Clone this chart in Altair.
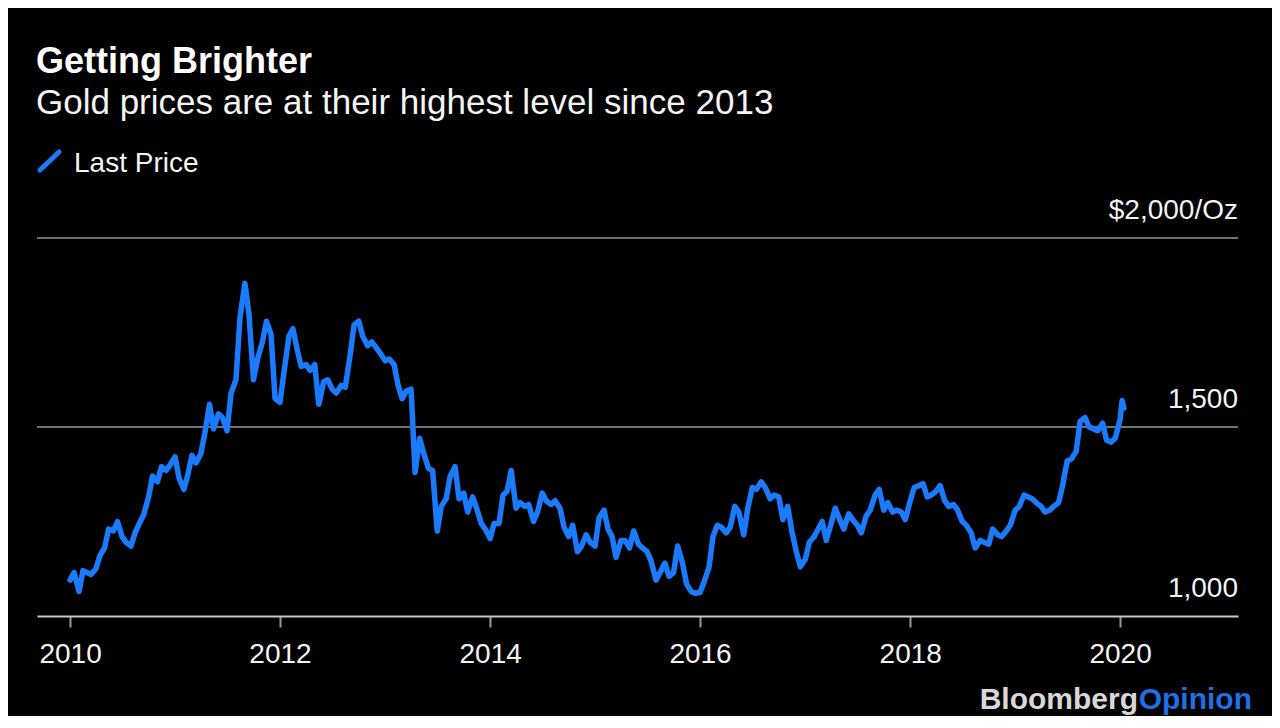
import altair as alt
import pandas as pd

TITLE = "Getting Brighter"
SUBTITLE = "Gold prices are at their highest level since 2013"
LEGEND_LABEL = "Last Price"
FOOTER_A = "Bloomberg"
FOOTER_B = "Opinion"

X_TICK_YEARS = [2010, 2012, 2014, 2016, 2018, 2020]
Y_TICKS = [1000, 1500, 2000]
Y_LABELS = ["1,000", "1,500", "$2,000/Oz"]
GRID_VALUES = [1500, 2000]

# Gold price, semi-monthly (1st and 15th of each month), USD/oz
y2010 = [1095, 1115, 1065, 1120, 1115, 1110, 1125, 1160, 1180, 1230, 1225, 1250,
         1210, 1195, 1185, 1220, 1248, 1270, 1315, 1370, 1355, 1395, 1385, 1400]
y2011 = [1421, 1365, 1335, 1375, 1425, 1405, 1430, 1485, 1560, 1495, 1535, 1525,
         1490, 1590, 1625, 1790, 1880, 1800, 1625, 1680, 1725, 1780, 1745, 1575]
y2012 = [1565, 1645, 1740, 1760, 1705, 1660, 1665, 1650, 1665, 1560, 1620, 1625,
         1600, 1590, 1610, 1605, 1690, 1770, 1780, 1740, 1715, 1725, 1710, 1695]
y2013 = [1675, 1680, 1665, 1610, 1575, 1595, 1600, 1380, 1470, 1430, 1390, 1385,
         1225, 1290, 1310, 1370, 1395, 1310, 1325, 1275, 1315, 1285, 1245, 1230]
y2014 = [1205, 1245, 1245, 1320, 1330, 1385, 1285, 1300, 1290, 1295, 1250, 1275,
         1325, 1305, 1295, 1305, 1285, 1235, 1210, 1240, 1170, 1185, 1215, 1195]
y2015 = [1185, 1260, 1280, 1230, 1210, 1155, 1200, 1200, 1180, 1225, 1190, 1180,
         1170, 1145, 1095, 1115, 1140, 1105, 1115, 1185, 1140, 1085, 1065, 1060]
y2016 = [1062, 1090, 1128, 1210, 1240, 1235, 1220, 1235, 1290, 1275, 1215, 1285,
         1340, 1335, 1355, 1340, 1310, 1320, 1315, 1255, 1290, 1225, 1170, 1130]
y2017 = [1150, 1195, 1210, 1230, 1250, 1200, 1245, 1285, 1255, 1230, 1270, 1255,
         1240, 1220, 1265, 1280, 1320, 1335, 1280, 1300, 1275, 1280, 1275, 1255]
y2018 = [1305, 1340, 1345, 1350, 1315, 1320, 1330, 1345, 1305, 1290, 1295, 1280,
         1250, 1240, 1220, 1180, 1200, 1195, 1190, 1230, 1215, 1210, 1225, 1240]
y2019 = [1280, 1290, 1320, 1315, 1310, 1300, 1290, 1275, 1280, 1290, 1300, 1345,
         1410, 1415, 1435, 1515, 1525, 1500, 1495, 1490, 1510, 1465, 1460, 1470]
y2020 = [1520, 1570, 1550]

values = y2010 + y2011 + y2012 + y2013 + y2014 + y2015 + y2016 + y2017 + y2018 + y2019 + y2020
dates = list(pd.date_range("2010-01-01", "2020-01-01", freq="SMS")) + [
    pd.Timestamp("2020-01-08"), pd.Timestamp("2020-01-14")]
df = pd.DataFrame({"date": dates, "price": values})

FONT = "Liberation Sans"
BLUE = "#1a7bff"
WHITE = "#f4f4f4"

x_scale = alt.Scale(domain=[alt.DateTime(year=2009, month=9, date=8),
                            alt.DateTime(year=2021, month=2, date=14)])
y_scale = alt.Scale(domain=[1000, 2000], nice=False, zero=False)

grid = alt.Chart(pd.DataFrame({"value": GRID_VALUES})).mark_rule(
    color="#707070", strokeWidth=2
).encode(y=alt.Y("value:Q", scale=y_scale, axis=None))

line = alt.Chart(df).mark_line(
    color=BLUE, strokeWidth=5.5, strokeJoin="round", strokeCap="round"
).encode(
    x=alt.X("date:T", scale=x_scale,
            axis=alt.Axis(values=[alt.DateTime(year=y, month=1, date=1) for y in X_TICK_YEARS],
                          format="%Y", title=None, grid=False,
                          labelFont=FONT, labelFontSize=28, labelColor=WHITE,
                          labelPadding=13, tickSize=11, tickWidth=2, tickColor="#9a9a9a",
                          domainColor="#c8c8c8", domainWidth=2, labelAlign="center")),
    y=alt.Y("price:Q", scale=y_scale, axis=None),
)

ylab_df = pd.DataFrame({"value": Y_TICKS, "label": Y_LABELS})
ylabels = alt.Chart(ylab_df).mark_text(
    align="right", baseline="alphabetic", dy=-19, fontSize=28, font=FONT, color=WHITE
).encode(
    x=alt.value(1201),
    y=alt.Y("value:Q", scale=y_scale, axis=None),
    text="label:N",
)


def txt(s, x, y, size, weight, color, align="left"):
    return alt.Chart(pd.DataFrame({"t": [s]})).mark_text(
        align=align, baseline="alphabetic", fontSize=size, fontWeight=weight,
        font=FONT, color=color
    ).encode(x=alt.value(x), y=alt.value(y), text="t:N")


title = txt(TITLE, -1, -165, 36, "bold", "#ffffff")
subtitle = txt(SUBTITLE, -1, -124, 35, "normal", WHITE)
legend_text = txt(LEGEND_LABEL, 37, -66, 28, "normal", WHITE)
legend_mark = alt.Chart(pd.DataFrame({"t": [LEGEND_LABEL]})).mark_rule(
    color=BLUE, strokeWidth=5, strokeCap="round"
).encode(x=alt.value(3), y=alt.value(-68), x2=alt.value(22), y2=alt.value(-86))
footer_a = txt(FOOTER_A, 1101, 471, 30, "bold", "#d8d8d8", align="right")
footer_b = txt(FOOTER_B, 1215, 471, 30, "bold", "#1f6fe5", align="right")

chart = alt.layer(
    grid, line, ylabels, title, subtitle, legend_mark, legend_text, footer_a, footer_b
).properties(
    width=1201, height=378, background="#000000",
    padding={"left": 29, "top": 230, "right": 34, "bottom": 100},
    autosize=alt.AutoSizeParams(type="none"),
).configure_view(stroke=None)

chart.save("out.html", embed_options={"renderer": "svg", "actions": False})
